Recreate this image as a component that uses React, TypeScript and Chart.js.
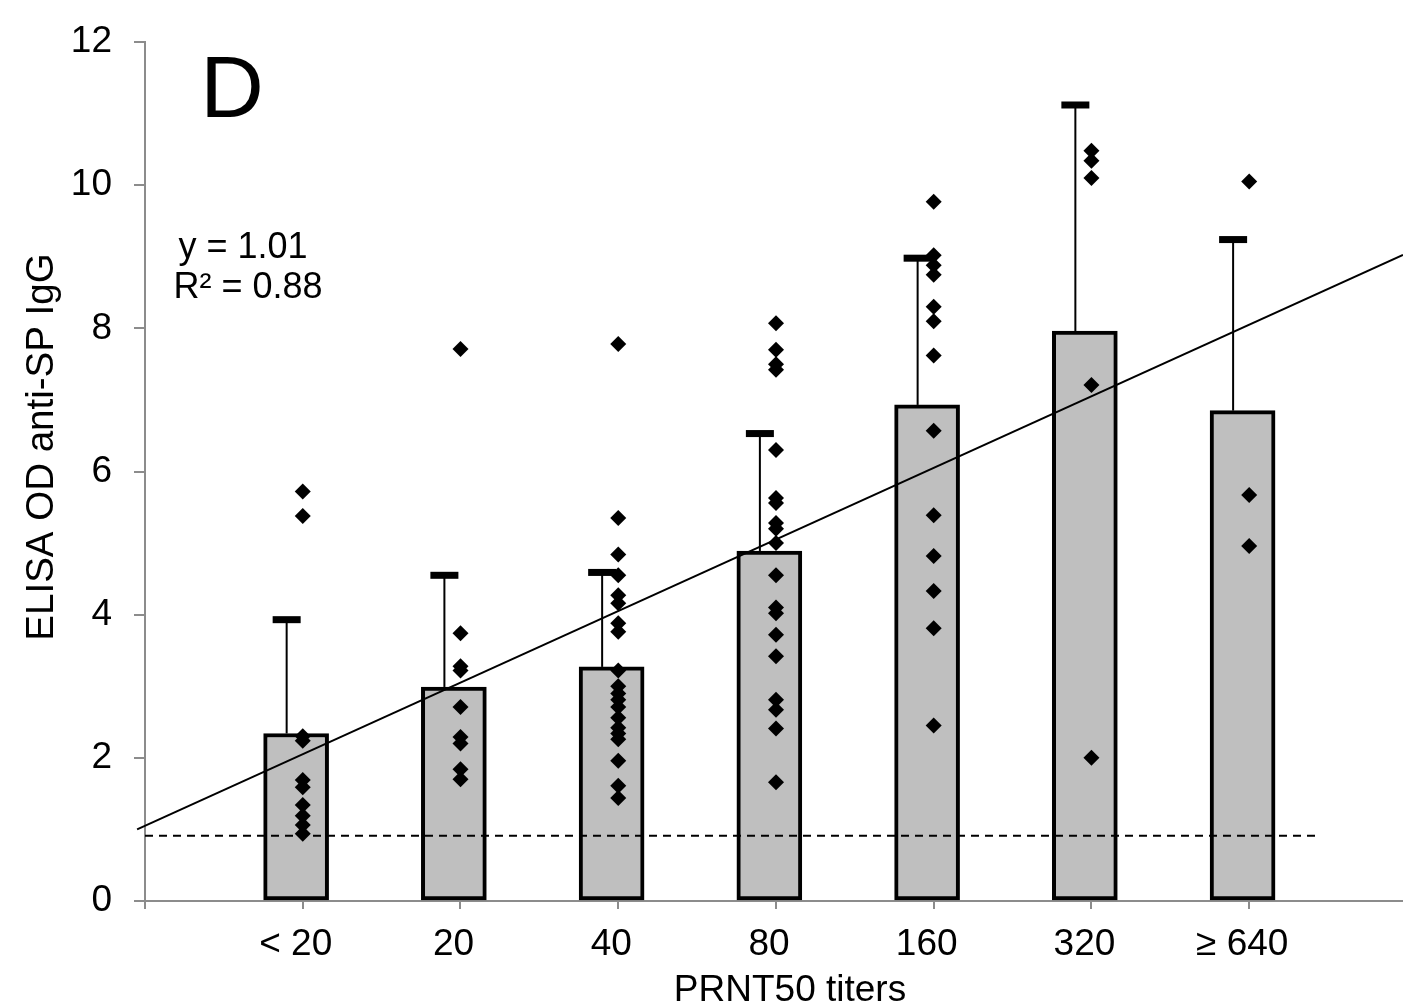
import React, { useEffect, useRef } from "react";
import { Chart, registerables } from "chart.js";

Chart.register(...registerables);

// ---------- data ----------
const CATEGORIES = ["< 20", "20", "40", "80", "160", "320", "≥ 640"];
const MEAN_VALUES = [2.34, 2.99, 3.27, 4.89, 6.93, 7.96, 6.85];
const ERROR_TOPS = [3.93, 4.55, 4.59, 6.53, 8.98, 11.12, 9.24];

const POINTS_LT20 = [5.72, 5.38, 2.3, 2.24, 1.69, 1.59, 1.34, 1.19, 1.06, 0.94];
const POINTS_20 = [7.71, 3.74, 3.28, 3.22, 2.71, 2.29, 2.2, 1.84, 1.7];
const POINTS_40 = [7.78, 5.35, 4.84, 4.55, 4.27, 4.16, 3.88, 3.76, 3.22, 3.0, 2.9, 2.81, 2.71, 2.56, 2.42, 2.34, 2.26, 1.96, 1.61, 1.44];
const POINTS_80 = [8.07, 7.7, 7.5, 7.42, 6.3, 5.63, 5.56, 5.28, 5.2, 5.0, 4.55, 4.1, 4.02, 3.72, 3.42, 2.81, 2.67, 2.41, 1.66];
const POINTS_160 = [9.77, 9.02, 8.88, 8.75, 8.3, 8.1, 7.62, 6.57, 5.39, 4.82, 4.33, 3.81, 2.45];
const POINTS_320 = [10.48, 10.34, 10.1, 7.21, 2.0];
const POINTS_GE640 = [10.05, 5.67, 4.96];
const POINT_GROUPS = [POINTS_LT20, POINTS_20, POINTS_40, POINTS_80, POINTS_160, POINTS_320, POINTS_GE640];

const Y_TICKS = [0, 2, 4, 6, 8, 10, 12];
const X_TICKS = [0, 1, 2, 3, 4, 5, 6, 7];
const CUTOFF = 0.91;
const CUTOFF_END_X = 7.44;
const TREND_SLOPE = 1.0;
const TREND_INTERCEPT = 1.05;
const TREND_X_START = -0.05;
const TREND_X_END = 7.975;

const PANEL_LABEL = "D";
const EQUATION_LABEL = "y = 1.01";
const R2_LABEL = "R² = 0.88";
const X_TITLE = "PRNT50 titers";
const Y_TITLE = "ELISA OD anti-SP IgG";

// ---------- style ----------
const FONT = "'Liberation Sans', Arial, sans-serif";
const AXIS_COLOR = "#8c8c8c";
const BAR_SHIFT = -0.042;
const ERR_SHIFT = -0.102;

const errorBarPlugin = {
  id: "errorBars",
  afterDatasetDraw(chart: any, args: any) {
    if (args.meta.type !== "bar") return;
    const { ctx } = chart;
    const x = chart.scales.x;
    const y = chart.scales.y;
    ctx.save();
    ctx.strokeStyle = "#000";
    ctx.fillStyle = "#000";
    MEAN_VALUES.forEach((v, i) => {
      const px = x.getPixelForValue(i + 1 + ERR_SHIFT);
      const y0 = y.getPixelForValue(v);
      const y1 = y.getPixelForValue(ERROR_TOPS[i]);
      ctx.lineWidth = 2;
      ctx.beginPath();
      ctx.moveTo(px, y0);
      ctx.lineTo(px, y1);
      ctx.stroke();
      ctx.fillRect(px - 14, y1 - 3.5, 28, 7);
    });
    ctx.restore();
  },
};

const textPlugin = {
  id: "texts",
  afterDraw(chart: any) {
    const { ctx } = chart;
    ctx.save();
    ctx.fillStyle = "#000";
    ctx.textAlign = "center";
    ctx.textBaseline = "alphabetic";
    ctx.font = `88px ${FONT}`;
    ctx.fillText(PANEL_LABEL, 232, 117);
    ctx.font = `36px ${FONT}`;
    ctx.fillText(EQUATION_LABEL, 243, 258);
    ctx.fillText(R2_LABEL, 248, 298);
    ctx.font = `37px ${FONT}`;
    ctx.fillText(X_TITLE, 790, 1001);
    ctx.translate(42, 447);
    ctx.rotate(-Math.PI / 2);
    ctx.textBaseline = "middle";
    ctx.font = `38.5px ${FONT}`;
    ctx.fillText(Y_TITLE, 0, 0);
    ctx.restore();
  },
};

export default function App() {
  const ref = useRef<HTMLCanvasElement>(null);
  useEffect(() => {
    if (!ref.current) return;
    Chart.defaults.font.family = FONT;
    const barData = MEAN_VALUES.map((v, i) => ({ x: i + 1 + BAR_SHIFT, y: v }));
    const pointData = POINT_GROUPS.flatMap((g, i) => g.map((v) => ({ x: i + 1, y: v })));
    const trendData = [TREND_X_START, TREND_X_END].map((xv) => ({ x: xv, y: TREND_SLOPE * xv + TREND_INTERCEPT }));
    const cutoffData = [0, CUTOFF_END_X].map((xv) => ({ x: xv, y: CUTOFF }));

    const chart = new Chart(ref.current, {
      type: "scatter",
      data: {
        datasets: [
          {
            type: "bar",
            data: barData as any,
            backgroundColor: "#bfbfbf",
            borderColor: "#000",
            borderWidth: 4,
            borderSkipped: false,
            barThickness: 65,
            order: 10,
          } as any,
          {
            type: "line",
            data: cutoffData,
            borderColor: "#000",
            borderWidth: 2,
            borderDash: [8, 6],
            pointRadius: 0,
            order: 5,
          },
          {
            type: "line",
            data: trendData,
            borderColor: "#000",
            borderWidth: 2,
            pointRadius: 0,
            clip: false,
            order: 4,
          } as any,
          {
            type: "scatter",
            data: pointData,
            pointStyle: "rectRot",
            pointRadius: 8,
            backgroundColor: "#000",
            borderWidth: 0,
            order: 1,
          },
        ],
      },
      options: {
        animation: false,
        responsive: false,
        devicePixelRatio: 1,
        layout: { autoPadding: false, padding: { top: 42, right: 0, left: 0, bottom: 0 } },
        plugins: { legend: { display: false }, tooltip: { enabled: false } },
        scales: {
          x: {
            type: "linear",
            min: 0,
            max: 7.975,
            offset: false,
            afterBuildTicks: (s: any) => {
              s.ticks = X_TICKS.map((v) => ({ value: v }));
            },
            afterFit: (s: any) => {
              s.height = 107;
              s.paddingLeft = 0;
              s.paddingRight = 0;
            },
            ticks: {
              callback: (v: any) => CATEGORIES[Number(v) - 1] ?? "",
              font: { size: 37 },
              color: "#000",
              padding: 14,
              labelOffset: -7,
              maxRotation: 0,
              autoSkip: false,
            },
            grid: { display: true, offset: false, drawOnChartArea: false, drawTicks: true, tickLength: 8, color: AXIS_COLOR, lineWidth: 2 },
            border: { display: true, color: AXIS_COLOR, width: 2 },
          },
          y: {
            type: "linear",
            min: 0,
            max: 12,
            afterBuildTicks: (s: any) => {
              s.ticks = Y_TICKS.map((v) => ({ value: v }));
            },
            afterFit: (s: any) => {
              s.width = 145;
              s.paddingTop = 0;
              s.paddingBottom = 0;
            },
            ticks: { font: { size: 37, lineHeight: 1 }, color: "#000", padding: 22 },
            grid: { display: true, drawOnChartArea: false, drawTicks: true, tickLength: 11, color: AXIS_COLOR, lineWidth: 2 },
            border: { display: true, color: AXIS_COLOR, width: 2 },
          },
        },
      },
      plugins: [errorBarPlugin, textPlugin],
    });
    return () => chart.destroy();
  }, []);

  return (
    <div style={{ position: "fixed", left: 0, top: 0, width: 1403, height: 1008, background: "#fff" }}>
      <canvas ref={ref} width={1403} height={1008} style={{ width: 1403, height: 1008 }} />
    </div>
  );
}
